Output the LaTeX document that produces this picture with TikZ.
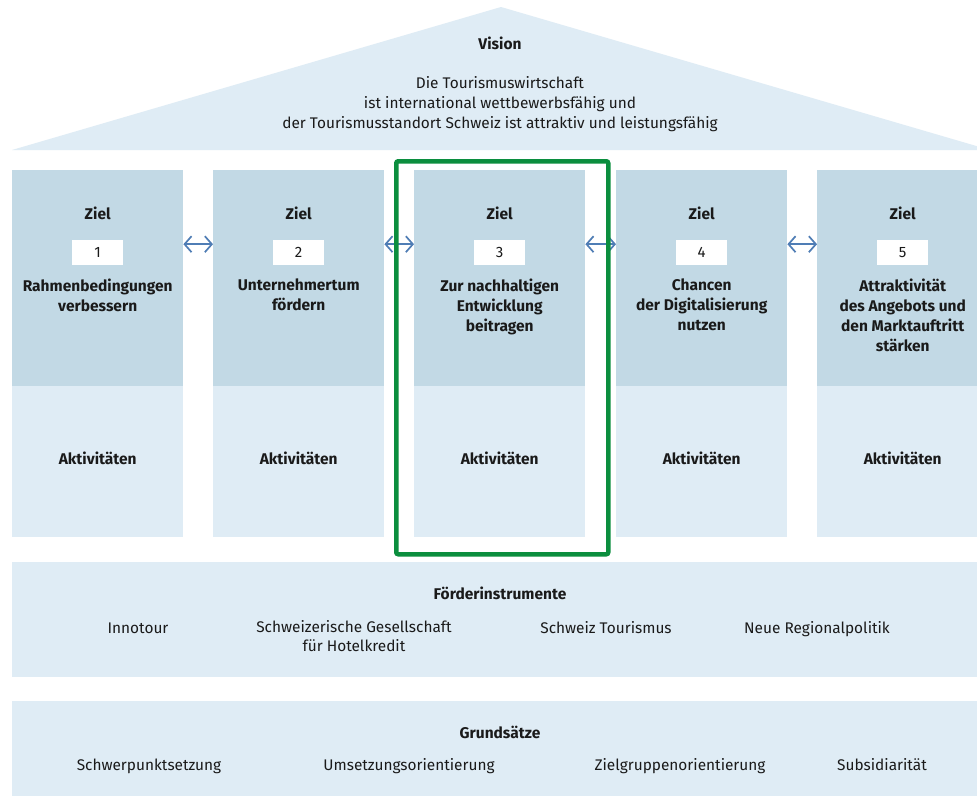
\documentclass[tikz,border=0pt]{standalone}
\usepackage{fontspec}
\setmainfont{Fira Sans}
\usetikzlibrary{arrows.meta,calc}
\definecolor{darkblue}{HTML}{C2D9E5}
\definecolor{lightblue}{HTML}{DFECF5}
\definecolor{grn}{HTML}{0B8E3E}
\definecolor{arrowblue}{HTML}{4F7DB5}
\definecolor{txt}{HTML}{1A1A1A}
\tikzset{
  zielbox/.style={fill=darkblue, inner sep=0, minimum width=171pt, minimum height=216pt, anchor=north west},
  aktbox/.style={fill=lightblue, inner sep=0, minimum width=171pt, minimum height=151pt, anchor=north west},
  band/.style={fill=lightblue, inner sep=0, minimum width=965pt, anchor=north west},
  numbox/.style={fill=white, inner sep=0, minimum width=51pt, minimum height=25pt, font=\fontsize{15}{20}\selectfont, text=txt},
  headm/.style={font=\fontsize{15.5}{20}\selectfont\bfseries, text=txt, align=center, inner sep=0},
  plainm/.style={font=\fontsize{15.4}{19.5}\selectfont, text=txt, align=center, inner sep=0},
  head/.style={headm, text height=13pt, text depth=1pt},
  plain/.style={plainm, text height=13pt, text depth=1pt},
  biarrow/.style={draw=arrowblue, line width=1.7pt, {Straight Barb[length=7pt,width=16pt]}-{Straight Barb[length=7pt,width=16pt]}},
  highlight/.style={draw=grn, line width=4.5pt, rounded corners=2pt, inner sep=0, anchor=north west, minimum width=212pt, minimum height=393pt}
}
\begin{document}
\begin{tikzpicture}[x=1pt,y=-1pt]
\clip (0,0) rectangle (977,795);
\fill[white] (0,0) rectangle (977,795);
% roof
\fill[lightblue] (12,150) -- (501,7) -- (990,150) -- cycle;
\node[head] (vision) at (500,43) {Vision};
\node[plainm, anchor=north, font=\fontsize{15.4}{20}\selectfont] (vtext) at (500,76) {Die Tourismuswirtschaft\\ist international wettbewerbsfähig und\\der Tourismusstandort Schweiz ist attraktiv und leistungsfähig};
% columns
\foreach \i/\xx/\num/\ttl in {1/12/1/{Rahmenbedingungen\\verbessern},
                             2/213/2/{Unternehmertum\\fördern},
                             3/414/3/{Zur nachhaltigen\\Entwicklung\\beitragen},
                             4/616/4/{Chancen\\der Digitalisierung\\nutzen},
                             5/817/5/{Attraktivität\\des Angebots und\\den Marktauftritt\\stärken}}{
  \node[zielbox] (z\i) at (\xx,170) {};
  \node[aktbox] (a\i) at (\xx,386) {};
  \node[head] (zl\i) at ($(z\i.north)+(0,43)$) {Ziel};
  \node[numbox] (n\i) at ($(z\i.north)+(0,82.5)$) {\num};
  \node[headm, anchor=north] (t\i) at ($(z\i.north)+(0,109)$) {\ttl};
  \node[head] (ak\i) at ($(a\i.north)+(0,72)$) {Aktivitäten};
}
% arrows
\foreach \i/\j in {1/2,2/3,3/4,4/5}{
  \draw[biarrow] ([yshift=34pt]z\i.east) -- ([yshift=34pt]z\j.west);
}
% highlight
\node[highlight] (hl) at (394,159) {};
% Förderinstrumente
\node[band, minimum height=115pt] (foerd) at (12,562) {};
\node[head] (fh) at (500,593) {Förderinstrumente};
\node[plain] (f1) at (138,627) {Innotour};
\node[plainm, anchor=north] (f2) at (354,620) {Schweizerische Gesellschaft\\für Hotelkredit};
\node[plain] (f3) at (606,627) {Schweiz Tourismus};
\node[plain] (f4) at (817,627) {Neue Regionalpolitik};
% Grundsätze
\node[band, minimum height=100pt] (grund) at (12,701) {};
\node[head] (gh) at (500,732) {Grundsätze};
\node[plain] (g1) at (149,764) {Schwerpunktsetzung};
\node[plain] (g2) at (409,764) {Umsetzungsorientierung};
\node[plain] (g3) at (680,764) {Zielgruppenorientierung};
\node[plain] (g4) at (882,764) {Subsidiarität};
\end{tikzpicture}
\end{document}
